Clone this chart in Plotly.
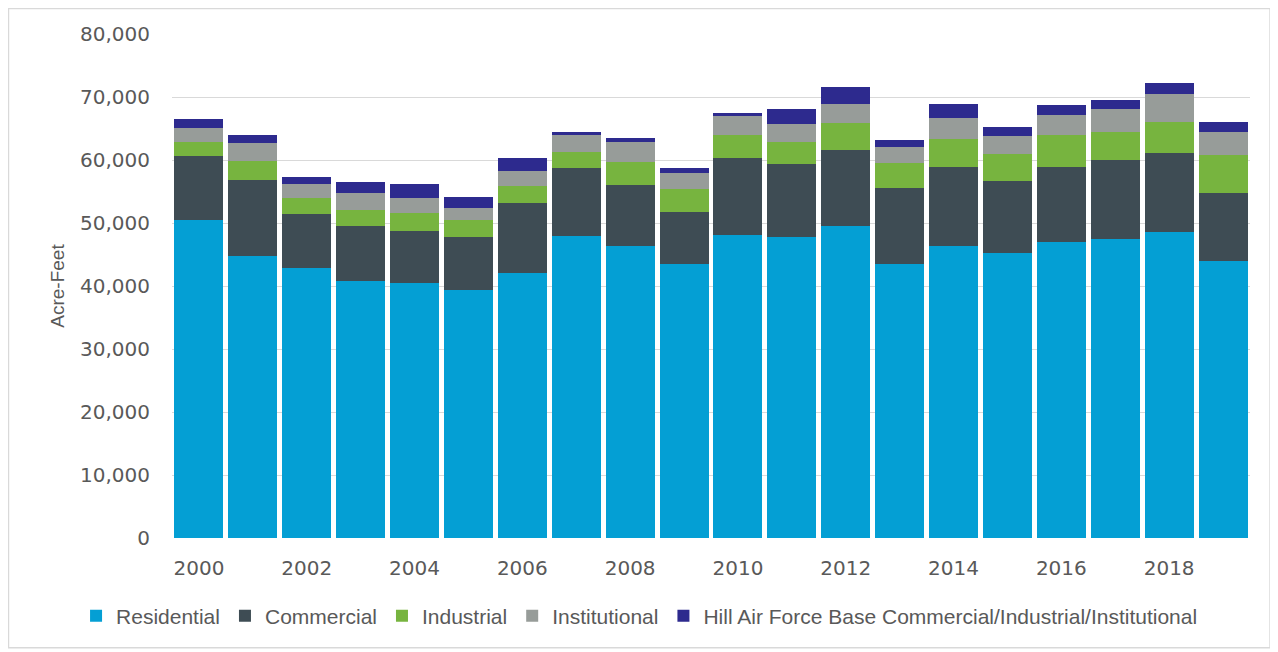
import plotly.graph_objects as go

years = list(range(2000, 2020))
residential = [50500, 44800, 42900, 40800, 40400, 39400, 42100, 48000, 46350, 43500,
               48100, 47800, 49600, 43450, 46350, 45300, 46950, 47400, 48500, 44000]
commercial = [10100, 12000, 8500, 8800, 8400, 8350, 11000, 10700, 9700, 8300,
              12150, 11500, 12000, 12050, 12600, 11350, 12000, 12600, 12650, 10800]
industrial = [2300, 3100, 2500, 2450, 2850, 2750, 2750, 2500, 3700, 3550,
              3700, 3600, 4250, 3950, 4400, 4250, 4950, 4500, 4900, 6000]
institutional = [2200, 2750, 2250, 2650, 2300, 1850, 2450, 2800, 3150, 2650,
                 3100, 2800, 3050, 2650, 3250, 2900, 3250, 3550, 4350, 3700]
hill_afb = [1400, 1350, 1200, 1850, 2200, 1750, 1950, 500, 550, 700,
            450, 2400, 2650, 1050, 2300, 1500, 1600, 1450, 1750, 1600]

series_names = ["Residential", "Commercial", "Industrial", "Institutional",
                "Hill Air Force Base Commercial/Industrial/Institutional"]
series_values = [residential, commercial, industrial, institutional, hill_afb]
series_colors = ["#049FD4", "#3E4C54", "#77B43F", "#979C99", "#2D2A8E"]

tick_years = list(range(2000, 2019, 2))
y_ticks = list(range(0, 80001, 10000))

fig = go.Figure()
for name, vals, col in zip(series_names, series_values, series_colors):
    fig.add_trace(go.Bar(x=years, y=vals, name=name, marker=dict(color=col, line=dict(width=0))))

tick_font = dict(family="DejaVu Sans", size=20, color="#595959")

fig.update_layout(
    barmode="stack",
    bargap=0.09,
    width=1270, height=644,
    margin=dict(l=164, r=28, t=26, b=114),
    plot_bgcolor="white",
    paper_bgcolor="white",
    showlegend=True,
    legend=dict(orientation="h", x=-0.089, y=-0.155, xanchor="left", yanchor="middle",
                font=dict(family="Liberation Sans", size=21, color="#595959"),
                traceorder="normal", itemclick=False, bgcolor="rgba(0,0,0,0)"),
    xaxis=dict(range=[1999.5, 2019.5], tickmode="array", tickvals=tick_years,
               ticktext=[str(y) for y in tick_years], showgrid=False, zeroline=False,
               showline=False, ticks="", tickfont=tick_font, ticklabelstandoff=16),
    yaxis=dict(range=[0, 80000], tickmode="array", tickvals=y_ticks,
               ticktext=[f"{v:,}" for v in y_ticks], showgrid=True, gridcolor="#D9D9D9",
               gridwidth=1, zeroline=False, showline=False, ticks="", tickfont=tick_font,
               ticklabelstandoff=21,
               title=dict(text="Acre-Feet", font=dict(family="Liberation Sans", size=19, color="#595959"),
                          standoff=10)),
    shapes=[dict(type="rect", xref="paper", yref="paper", x0=-0.1517, x1=1.0186, y0=-0.218, y1=1.0506,
                 line=dict(color="#D9D9D9", width=1.5), fillcolor="rgba(0,0,0,0)", layer="below")],
)

fig.write_html("out.html")
